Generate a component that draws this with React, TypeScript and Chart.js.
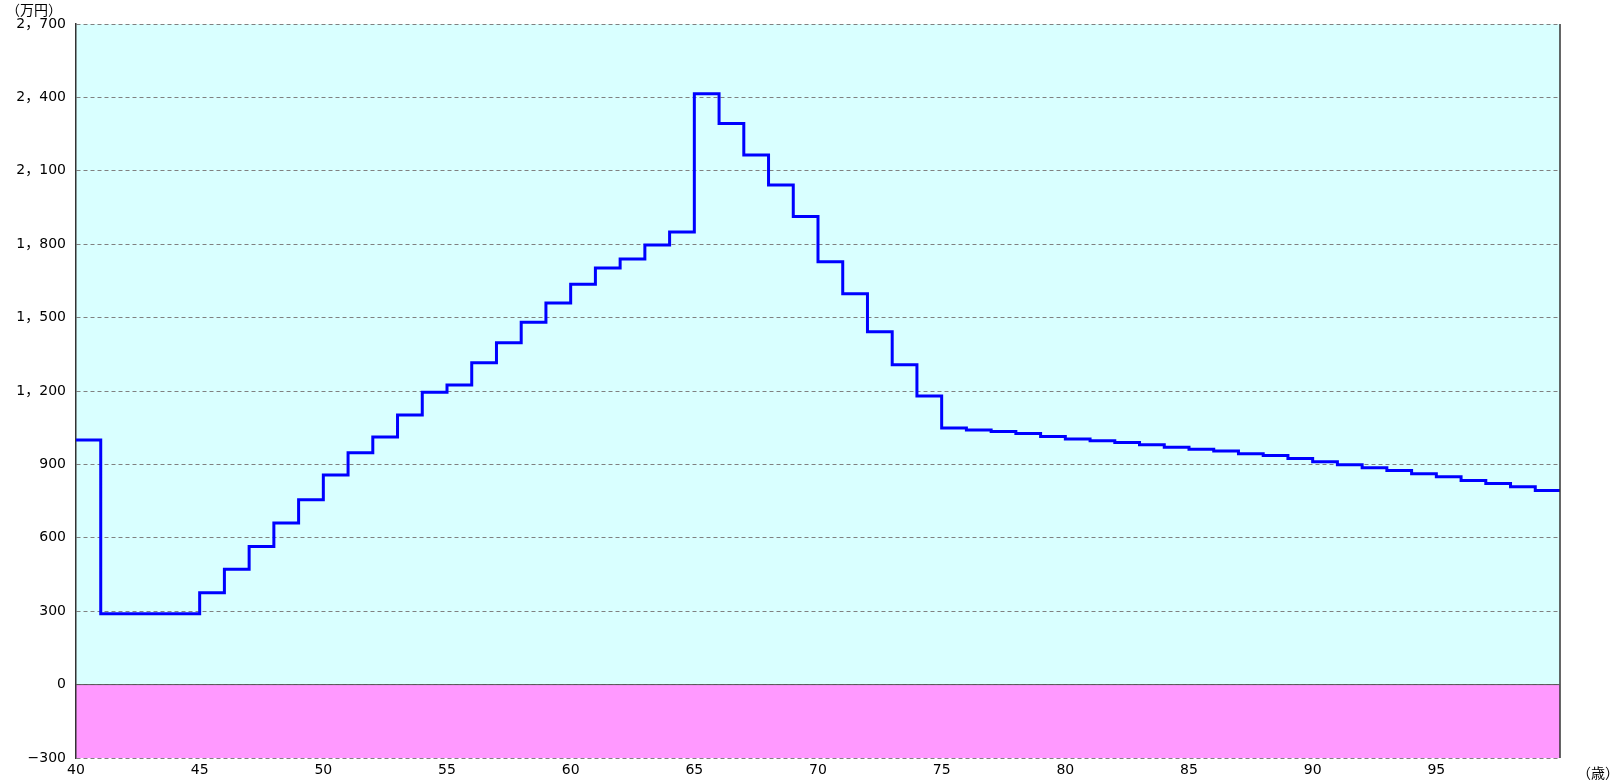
import React, { useEffect, useRef } from "react";
import { Chart, registerables } from "chart.js";

Chart.register(...registerables);

// Ages (years) at which each step starts
const ages: number[] = [
  40, 41, 42, 43, 44, 45, 46, 47, 48, 49,
  50, 51, 52, 53, 54, 55, 56, 57, 58, 59,
  60, 61, 62, 63, 64, 65, 66, 67, 68, 69,
  70, 71, 72, 73, 74, 75, 76, 77, 78, 79,
  80, 81, 82, 83, 84, 85, 86, 87, 88, 89,
  90, 91, 92, 93, 94, 95, 96, 97, 98, 99,
];

// Balance (万円) held during each year
const balances: number[] = [
  1000, 290, 290, 290, 290, 375, 471, 564, 660, 756,
  857, 948, 1012, 1102, 1195, 1225, 1315, 1397, 1481, 1560,
  1636, 1703, 1740, 1797, 1850, 2415, 2293, 2165, 2042, 1913,
  1728, 1597, 1442, 1307, 1180, 1049, 1041, 1034, 1026, 1014,
  1004, 997, 989, 980, 970, 962, 955, 944, 936, 924,
  911, 899, 886, 875, 862, 850, 834, 822, 809, 793,
];

const endAge = 100;
const yMin = -300;
const yMax = 2700;
const yStep = 300;
const xMin = 40;
const xStep = 5;

const yUnitLabel = "（万円）";
const xUnitLabel = "（歳）";

const fmt = (v: number) => {
  const neg = v < 0;
  const a = Math.abs(v);
  const s = a >= 1000 ? `${Math.floor(a / 1000)}，${String(a % 1000).padStart(3, "0")}` : String(a);
  return (neg ? "−" : "") + s;
};

const bgPlugin = {
  id: "bgPlugin",
  beforeDraw(chart: any) {
    const { ctx, chartArea, scales } = chart;
    const y0 = scales.y.getPixelForValue(0);
    ctx.save();
    ctx.fillStyle = "#D9FFFF";
    ctx.fillRect(chartArea.left, chartArea.top, chartArea.right - chartArea.left, y0 - chartArea.top);
    ctx.fillStyle = "#FF99FF";
    ctx.fillRect(chartArea.left, y0, chartArea.right - chartArea.left, chartArea.bottom - y0);
    ctx.restore();
  },
  afterDatasetsDraw(chart: any) {
    const { ctx, chartArea, scales } = chart;
    const y0 = scales.y.getPixelForValue(0);
    ctx.save();
    ctx.strokeStyle = "#333333";
    ctx.lineWidth = 1.5;
    ctx.beginPath();
    ctx.moveTo(chartArea.right, chartArea.top);
    ctx.lineTo(chartArea.right, chartArea.bottom);
    ctx.stroke();
    ctx.strokeStyle = "#555555";
    ctx.lineWidth = 1;
    ctx.beginPath();
    ctx.moveTo(chartArea.left, y0);
    ctx.lineTo(chartArea.right, y0);
    ctx.stroke();
    ctx.fillStyle = "#000000";
    ctx.font = '14px "Noto Sans CJK JP"';
    ctx.textBaseline = "middle";
    ctx.textAlign = "left";
    ctx.fillText(yUnitLabel, 6, 10);
    ctx.fillText(xUnitLabel, chartArea.right + 17, chartArea.bottom + 15);
    ctx.restore();
  },
};

export default function App() {
  const ref = useRef<HTMLCanvasElement | null>(null);

  useEffect(() => {
    if (!ref.current) return;
    const points = ages.map((a, i) => ({ x: a, y: balances[i] }));
    points.push({ x: endAge, y: balances[balances.length - 1] });

    const chart = new Chart(ref.current, {
      type: "line",
      data: {
        datasets: [
          {
            data: points,
            borderColor: "#0000FF",
            borderWidth: 3,
            pointRadius: 0,
            stepped: "before",
            fill: false,
            borderJoinStyle: "miter",
          },
        ],
      },
      options: {
        animation: false,
        responsive: true,
        maintainAspectRatio: false,
        layout: { padding: { top: 24, right: 59, bottom: 0, left: 0 } },
        plugins: { legend: { display: false }, tooltip: { enabled: false } },
        scales: {
          x: {
            type: "linear",
            min: xMin,
            max: endAge,
            afterFit: (s: any) => {
              s.height = 23;
            },
            ticks: {
              stepSize: xStep,
              color: "#000000",
              font: { family: '"DejaVu Sans", "Noto Sans CJK JP"', size: 14 },
              padding: 4,
              maxRotation: 0,
              callback: (v: any) => (Number(v) >= endAge ? "" : String(v)),
            },
            grid: { display: false, drawTicks: false },
            border: { display: false },
          },
          y: {
            min: yMin,
            max: yMax,
            afterFit: (s: any) => {
              s.width = 76;
            },
            ticks: {
              stepSize: yStep,
              color: "#000000",
              font: { family: '"DejaVu Sans", "Noto Sans CJK JP"', size: 14 },
              padding: 10,
              callback: (v: any) => fmt(Number(v)),
            },
            grid: {
              color: "#808080",
              lineWidth: 1,
              drawTicks: false,
            },
            border: { display: true, color: "#333333", width: 1.5, dash: [4, 3] },
          },
        },
      },
      plugins: [bgPlugin],
    });
    return () => chart.destroy();
  }, []);

  return (
    <div style={{ position: "absolute", left: 0, top: 0, width: 1619, height: 781, background: "#ffffff" }}>
      <canvas ref={ref} />
    </div>
  );
}
